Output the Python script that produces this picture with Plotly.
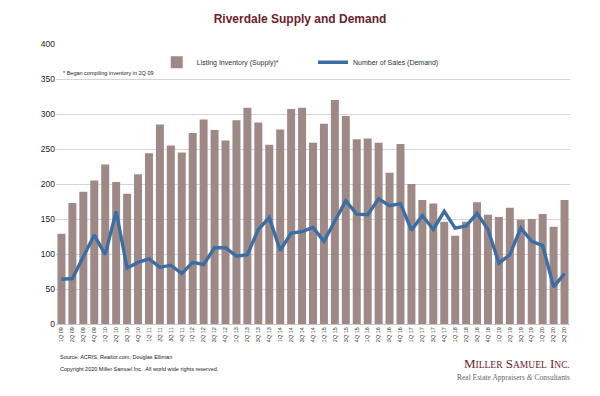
import plotly.graph_objects as go

quarters = []
for yr in range(9, 21):
    for q in range(1, 5):
        if yr == 20 and q == 4:
            break
        quarters.append(f"{q}Q {yr:02d}")

supply = [129, 173, 189, 205, 228, 203, 186, 214, 244, 285, 255, 245,
          273, 292, 277, 262, 291, 309, 288, 256, 278, 307, 309, 259,
          286, 320, 297, 264, 265, 259, 216, 257, 200, 177, 172, 146,
          126, 146, 174, 156, 153, 166, 149, 150, 157, 139, 177]

demand = [64, 65, 96, 127, 99, 161, 80, 88, 93, 81, 84, 72,
          88, 85, 109, 109, 97, 99, 135, 152, 105, 130, 132, 138,
          118, 147, 176, 157, 156, 179, 169, 172, 134, 155, 135, 161,
          137, 140, 158, 135, 87, 99, 137, 118, 112, 53, 72]

y_ticks = [0, 50, 100, 150, 200, 250, 300, 350, 400]

FONT = "Liberation Sans, Arial, sans-serif"
SERIF = "Liberation Serif, Times New Roman, serif"

# page body keeps its default 8px margin, so the figure is 16px smaller
W, H = 584, 380

fig = go.Figure()
fig.add_trace(go.Bar(
    x=quarters, y=supply, name="Listing Inventory (Supply)*",
    marker=dict(color="#9e8987", line=dict(width=0)), legend="legend",
    showlegend=True))
fig.add_trace(go.Scatter(
    x=quarters, y=demand, name="Number of Sales (Demand)", mode="lines",
    line=dict(color="#3c6ea6", width=3.4), legend="legend2", showlegend=True))

fig.update_layout(
    width=W, height=H,
    showlegend=True,
    margin=dict(l=47.5, r=21.5, t=36, b=64),
    paper_bgcolor="white", plot_bgcolor="white",
    bargap=0.27,
    font=dict(family=FONT, color="#222"),
    title=dict(text="<b>Riverdale Supply and Demand</b>", x=0.5, xanchor="center",
               y=1 - 11 / H, yanchor="middle",
               font=dict(size=12, color="#6b1d2c", family=FONT)),
    legend=dict(x=0.196, y=0.935, xanchor="left", yanchor="middle",
                bgcolor="rgba(0,0,0,0)", font=dict(size=7, color="#333"),
                itemwidth=30),
    legend2=dict(x=0.5, y=0.935, xanchor="left", yanchor="middle",
                 bgcolor="rgba(0,0,0,0)", font=dict(size=7, color="#333"),
                 itemwidth=30),
    xaxis=dict(tickangle=-90, tickfont=dict(size=5.5, color="#333"),
               showgrid=False, showline=True, linecolor="#c8c8c8",
               ticks="", automargin=False),
    yaxis=dict(range=[0, 400], tickvals=y_ticks, tickfont=dict(size=8.5, color="#222"),
               showgrid=True, gridcolor="#d4d4d4", gridwidth=1,
               zeroline=False, showline=False, ticks="", automargin=False),
    annotations=[
        dict(text="* Began compiling inventory in 2Q 09", xref="paper", yref="paper",
             x=0.01, y=0.895, xanchor="left", yanchor="middle", showarrow=False,
             font=dict(size=5.5, color="#222")),
        dict(text="Source: ACRIS, Realtor.com, Douglas Elliman", xref="paper", yref="paper",
             x=0.003, y=-0.117, xanchor="left", yanchor="middle", showarrow=False,
             font=dict(size=5.5, color="#222")),
        dict(text="Copyright 2020 Miller Samuel Inc.  All world wide rights reserved.",
             xref="paper", yref="paper",
             x=0.003, y=-0.16, xanchor="left", yanchor="middle", showarrow=False,
             font=dict(size=5.5, color="#222")),
        dict(text="M<span style='font-size:9.5px'>ILLER</span> S<span style='font-size:9.5px'>AMUEL</span> I<span style='font-size:9.5px'>NC.</span>",
             xref="paper", yref="paper",
             x=1.003, y=-0.14, xanchor="right", yanchor="middle", showarrow=False,
             font=dict(size=13, color="#6b1d2c", family=SERIF)),
        dict(text="Real Estate Appraisers <i>&amp;</i> Consultants",
             xref="paper", yref="paper",
             x=1.003, y=-0.19, xanchor="right", yanchor="middle", showarrow=False,
             font=dict(size=7.5, color="#666", family=SERIF)),
    ],
)

fig.write_html("out.html")
